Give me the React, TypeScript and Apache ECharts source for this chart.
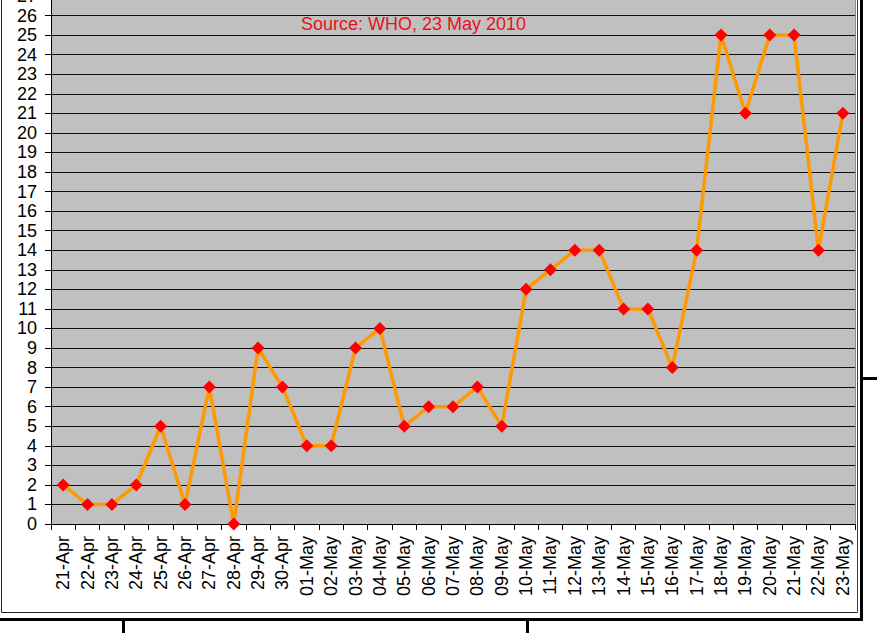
import React, { useEffect, useRef } from "react";
import * as echarts from "echarts";

const categories = [
  "21-Apr", "22-Apr", "23-Apr", "24-Apr", "25-Apr", "26-Apr", "27-Apr", "28-Apr", "29-Apr", "30-Apr",
  "01-May", "02-May", "03-May", "04-May", "05-May", "06-May", "07-May", "08-May", "09-May", "10-May",
  "11-May", "12-May", "13-May", "14-May", "15-May", "16-May", "17-May", "18-May", "19-May", "20-May",
  "21-May", "22-May", "23-May",
];
const cases = [
  2, 1, 1, 2, 5, 1, 7, 0, 9, 7,
  4, 4, 9, 10, 5, 6, 6, 7, 5, 12,
  13, 14, 14, 11, 11, 8, 14, 25, 21, 25,
  25, 14, 21,
];
const sourceNote = "Source: WHO, 23 May 2010";

const FONT = "'Liberation Sans', Arial, sans-serif";

export default function App() {
  const ref = useRef<HTMLDivElement>(null);
  useEffect(() => {
    if (!ref.current) return;
    const chart = echarts.init(ref.current, null, { renderer: "svg" });
    const thick = { stroke: "#000", lineWidth: 3 };
    chart.setOption({
      animation: false,
      backgroundColor: "#fff",
      grid: {
        left: 51,
        right: 22,
        top: -4,
        bottom: 112,
        show: true,
        backgroundColor: "#C0C0C0",
        borderWidth: 0,
        containLabel: false,
        outerBoundsMode: "none",
      },
      xAxis: {
        type: "category",
        data: categories,
        boundaryGap: true,
        axisLine: { show: true, lineStyle: { color: "#000", width: 1 } },
        axisTick: { show: true, length: 6, lineStyle: { color: "#000" } },
        axisLabel: {
          rotate: 90,
          interval: 0,
          margin: 12,
          fontSize: 18,
          color: "#000",
          fontFamily: FONT,
        },
        splitLine: { show: false },
      },
      yAxis: {
        type: "value",
        min: 0,
        max: 27,
        interval: 1,
        axisLine: { show: true, lineStyle: { color: "#000", width: 1 } },
        axisTick: { show: true, length: 6, lineStyle: { color: "#000" } },
        axisLabel: { fontSize: 18, color: "#000", margin: 14, fontFamily: FONT },
        splitLine: { show: true, lineStyle: { color: "#111", width: 1 } },
      },
      series: [
        {
          type: "line",
          data: cases,
          lineStyle: { color: "#FF9900", width: 3.5 },
          itemStyle: { color: "#FF0000" },
          symbol: "diamond",
          symbolSize: 13,
          z: 3,
        },
      ],
      graphic: [
        {
          type: "text",
          x: 413.5,
          y: 24,
          style: {
            text: sourceNote,
            fill: "#E8101A",
            fontSize: 18,
            fontFamily: FONT,
            align: "center",
            verticalAlign: "middle",
          },
          z: 10,
        },
        { type: "line", shape: { x1: 855.5, y1: 0, x2: 855.5, y2: 524 }, style: { stroke: "#8a8a8a", lineWidth: 1 } },
        { type: "line", shape: { x1: 1.5, y1: 0, x2: 1.5, y2: 612.5 }, style: { stroke: "#222", lineWidth: 1 } },
        { type: "line", shape: { x1: 1.5, y1: 612.5, x2: 857.5, y2: 612.5 }, style: { stroke: "#222", lineWidth: 1 } },
        { type: "line", shape: { x1: 857.5, y1: 0, x2: 857.5, y2: 612.5 }, style: { stroke: "#444", lineWidth: 1 } },
        { type: "line", shape: { x1: 861.5, y1: 0, x2: 861.5, y2: 621 }, style: thick },
        { type: "line", shape: { x1: 0, y1: 619.5, x2: 863, y2: 619.5 }, style: thick },
        { type: "line", shape: { x1: 123.5, y1: 619, x2: 123.5, y2: 633 }, style: thick },
        { type: "line", shape: { x1: 527.5, y1: 619, x2: 527.5, y2: 633 }, style: thick },
        { type: "line", shape: { x1: 861, y1: 378.5, x2: 877, y2: 378.5 }, style: thick },
      ],
    });
    return () => chart.dispose();
  }, []);
  return (
    <div
      ref={ref}
      style={{ position: "fixed", left: 0, top: 0, width: 877, height: 636 }}
    />
  );
}
